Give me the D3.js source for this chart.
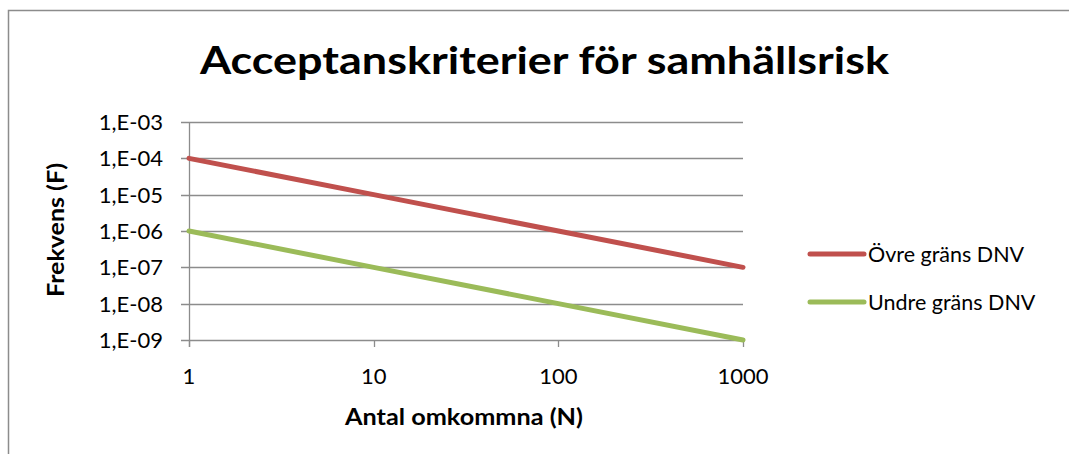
<!DOCTYPE html>
<html><head><meta charset="utf-8">
<script src="https://cdn.jsdelivr.net/npm/d3@7"></script>
<style>body{margin:0;background:#fff}svg{display:block}text{font-family:Lato,"Open Sans",sans-serif}</style>
</head><body><svg id="c" width="1069" height="454"></svg>
<script>
const title = "Acceptanskriterier för samhällsrisk";
const xLabel = "Antal omkommna (N)";
const yLabel = "Frekvens (F)";
const nValues = [1, 10, 100, 1000];
const ovre = [1e-4, 1e-5, 1e-6, 1e-7];
const undre = [1e-6, 1e-7, 1e-8, 1e-9];
const seriesNames = ["Övre gräns DNV", "Undre gräns DNV"];
const seriesColors = ["#C0504D", "#9BBB59"];
const yTicks = [1e-3, 1e-4, 1e-5, 1e-6, 1e-7, 1e-8, 1e-9];
const xTicks = [1, 10, 100, 1000];

const svg = d3.select("#c");
svg.append("rect").attr("x", 8.5).attr("y", 10.5).attr("width", 1080).attr("height", 460)
  .attr("fill", "none").attr("stroke", "#8c8c8c").attr("stroke-width", 1.5);

const x = d3.scaleLog().domain([1, 1000]).range([189, 743]);
const y = d3.scaleLog().domain([1e-9, 1e-3]).range([340, 122]);
const fmt = d => "1,E-" + String(Math.round(-Math.log10(d))).padStart(2, "0");

svg.append("g").selectAll("line").data(yTicks).join("line")
  .attr("x1", 181).attr("x2", 743).attr("y1", d => Math.round(y(d)) + 0.5).attr("y2", d => Math.round(y(d)) + 0.5)
  .attr("stroke", "#8c8c8c").attr("stroke-width", 1.3);
svg.append("line").attr("x1", 189.5).attr("x2", 189.5).attr("y1", 122).attr("y2", 347)
  .attr("stroke", "#8c8c8c").attr("stroke-width", 1.3);
svg.append("g").selectAll("line").data(xTicks).join("line")
  .attr("x1", d => Math.round(x(d)) + 0.5).attr("x2", d => Math.round(x(d)) + 0.5).attr("y1", 340).attr("y2", 347)
  .attr("stroke", "#8c8c8c").attr("stroke-width", 1.3);

svg.append("g").selectAll("text").data(yTicks).join("text")
  .attr("x", 163).attr("y", d => y(d) + 8).attr("text-anchor", "end")
  .attr("font-size", 22).attr("fill", "#000").text(fmt);
svg.append("g").selectAll("text").data(xTicks).join("text")
  .attr("x", d => x(d)).attr("y", 384).attr("text-anchor", "middle")
  .attr("font-size", 22).attr("fill", "#000").text(d => d);

const line = d3.line().x(d => x(d[0])).y(d => y(d[1]));
[ovre, undre].forEach((s, i) => {
  svg.append("path").datum(nValues.map((n, j) => [n, s[j]])).attr("d", line)
    .attr("fill", "none").attr("stroke", seriesColors[i]).attr("stroke-width", 5).attr("stroke-linecap", "round");
});

svg.append("text").attr("x", 544.5).attr("y", 74).attr("text-anchor", "middle")
  .attr("font-size", 38).attr("font-weight", "bold").attr("textLength", 689)
  .attr("lengthAdjust", "spacingAndGlyphs").text(title);
svg.append("text").attr("x", 464).attr("y", 425).attr("text-anchor", "middle")
  .attr("font-size", 22).attr("font-weight", "bold").attr("textLength", 238)
  .attr("lengthAdjust", "spacingAndGlyphs").text(xLabel);
svg.append("text").attr("transform", "translate(64,230) rotate(-90)").attr("text-anchor", "middle")
  .attr("font-size", 22).attr("font-weight", "bold").attr("textLength", 134)
  .attr("lengthAdjust", "spacingAndGlyphs").text(yLabel);

seriesNames.forEach((nm, i) => {
  const ly = 254 + i * 48;
  svg.append("line").attr("x1", 810).attr("x2", 864).attr("y1", ly).attr("y2", ly)
    .attr("stroke", seriesColors[i]).attr("stroke-width", 5).attr("stroke-linecap", "round");
  svg.append("text").attr("x", 868).attr("y", ly + 8).attr("font-size", 21.5).text(nm);
});
</script></body></html>
